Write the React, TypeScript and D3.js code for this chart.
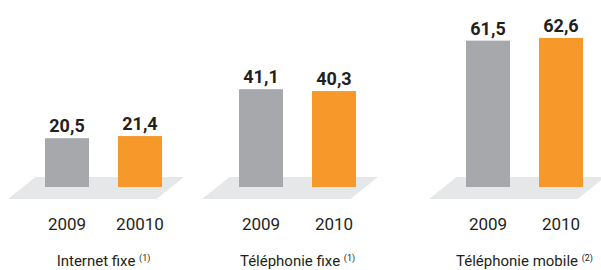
import React, { useRef, useEffect } from 'react';
import * as d3 from 'd3';

// data
const categories = ['Internet fixe', 'Téléphonie fixe', 'Téléphonie mobile'];
const notes = ['(1)', '(1)', '(2)'];
const series = ['2009', '2010'];
const values2009 = [20.5, 41.1, 61.5];
const values2010 = [21.4, 40.3, 62.6];
// tick labels under the bars (the first group really says "20010")
const yearLabels = [
  ['2009', '20010'],
  ['2009', '2010'],
  ['2009', '2010'],
];

const colors = ['#a7a8ab', '#f7982a'];
const FONT = "Roboto, 'Liberation Sans', sans-serif";

const App = () => {
  const ref = useRef<SVGSVGElement>(null);

  useEffect(() => {
    const width = 601;
    const height = 270;
    const baseline = 187;

    const svg = d3.select(ref.current).attr('width', width).attr('height', height);
    svg.selectAll('*').remove();

    const x = d3.scaleOrdinal<string, number>().domain(categories).range([103.5, 297.5, 524.5]);
    const inner = d3.scaleBand().domain(series).range([-58.5, 58.5]).paddingInner(0.397).paddingOuter(0);
    const y = d3.scaleLinear().domain([0, 70]).range([baseline, baseline - 166.6]);

    const rows = categories.map((c, i) => ({
      cat: c,
      note: notes[i],
      vals: [values2009[i], values2010[i]],
      labels: yearLabels[i],
    }));

    const g = svg
      .selectAll('g.group')
      .data(rows)
      .join('g')
      .attr('class', 'group')
      .attr('transform', (d) => `translate(${x(d.cat)},0)`);

    // floor under the bars
    const left = inner.range()[0];
    const right = inner.range()[1];
    g.append('path')
      .attr('fill', '#e6e7e8')
      .attr('d', () => {
        const p = d3.path();
        p.moveTo(left - 37, baseline + 12);
        p.lineTo(right - 5.5, baseline + 12);
        p.lineTo(right + 22, baseline - 10);
        p.lineTo(left - 9.5, baseline - 10);
        p.closePath();
        return p.toString();
      });

    const bars = g
      .selectAll('g.bar')
      .data((d) => d.vals.map((v, j) => ({ v, s: series[j], label: d.labels[j], j })))
      .join('g')
      .attr('class', 'bar');

    bars
      .append('rect')
      .attr('x', (d) => inner(d.s)!)
      .attr('width', inner.bandwidth())
      .attr('y', (d) => y(d.v))
      .attr('height', (d) => y(0) - y(d.v))
      .attr('fill', (d) => colors[d.j]);

    bars
      .append('text')
      .attr('x', (d) => inner(d.s)! + inner.bandwidth() / 2)
      .attr('y', (d) => y(d.v) - 6)
      .attr('text-anchor', 'middle')
      .style('font-family', FONT)
      .style('font-weight', 'bold')
      .style('font-size', '18px')
      .attr('fill', '#231f20')
      .text((d) => d3.format('.1f')(d.v).replace('.', ','));

    bars
      .append('text')
      .attr('x', (d) => inner(d.s)! + inner.bandwidth() / 2)
      .attr('y', 230)
      .attr('text-anchor', 'middle')
      .style('font-family', FONT)
      .style('font-size', '17px')
      .attr('fill', '#231f20')
      .text((d) => d.label);

    const cat = g
      .append('text')
      .attr('y', 266)
      .attr('text-anchor', 'middle')
      .style('font-family', FONT)
      .style('font-size', '15px')
      .attr('fill', '#231f20');
    cat.append('tspan').text((d) => d.cat + ' ');
    cat
      .append('tspan')
      .attr('dy', -5.5)
      .style('font-size', '9px')
      .text((d) => d.note);
  });

  return (
    <div style={{ position: 'absolute', left: 0, top: 0 }}>
      <svg ref={ref} style={{ display: 'block', background: '#fff' }}></svg>
    </div>
  );
};

export default App;
